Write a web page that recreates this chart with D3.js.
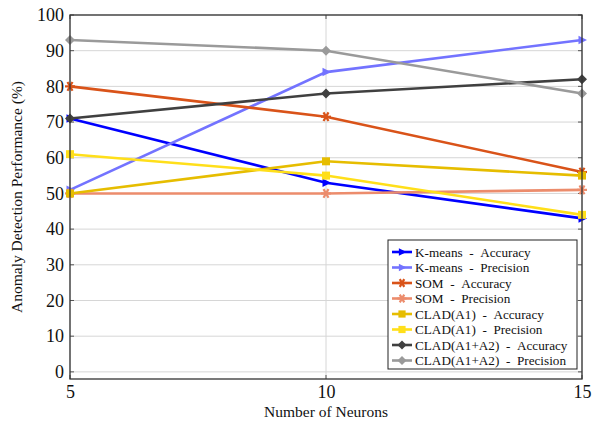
<!DOCTYPE html>
<html>
<head>
<meta charset="utf-8">
<script src="https://cdn.jsdelivr.net/npm/d3@7"></script>
<style>
  body { margin: 0; background: #fff; }
  svg text { font-family: "Liberation Serif", "Times New Roman", Times, "DejaVu Serif", serif !important; }
</style>
</head>
<body>
<svg id="chart"></svg>
<script>
// Data
const neurons = [5, 10, 15];
const yTicks = [0, 10, 20, 30, 40, 50, 60, 70, 80, 90, 100];

const kmeansAcc = [71, 53, 43];
const kmeansPrec = [51, 84, 93];
const somAcc = [80, 71.5, 56];
const somPrec = [50, 50, 51];
const cladA1Acc = [50, 59, 55];
const cladA1Prec = [61, 55, 44];
const cladA12Acc = [71, 78, 82];
const cladA12Prec = [93, 90, 78];

const series = [
  { name: "K-means - Accuracy", values: kmeansAcc, color: "#0000ff", mark: "tri" },
  { name: "K-means - Precision", values: kmeansPrec, color: "#7373ff", mark: "tri" },
  { name: "SOM - Accuracy", values: somAcc, color: "#d95319", mark: "star" },
  { name: "SOM - Precision", values: somPrec, color: "#ec8c6c", mark: "star" },
  { name: "CLAD(A1) - Accuracy", values: cladA1Acc, color: "#e6bd00", mark: "square" },
  { name: "CLAD(A1) - Precision", values: cladA1Prec, color: "#ffdf1a", mark: "square" },
  { name: "CLAD(A1+A2) - Accuracy", values: cladA12Acc, color: "#404040", mark: "diamond" },
  { name: "CLAD(A1+A2) - Precision", values: cladA12Prec, color: "#9a9a9a", mark: "diamond" }
];

const W = 592, H = 424;
const margin = { top: 15, right: 10, bottom: 45, left: 70 };
const width = W - margin.left - margin.right;
const height = H - margin.top - margin.bottom;

const svg = d3.select("#chart").attr("width", W).attr("height", H);
const g = svg.append("g").attr("transform", `translate(${margin.left},${margin.top})`);

const x = d3.scaleLinear().domain([5, 15]).range([0, width]);
const y = d3.scaleLinear().domain([-2, 100]).range([height, 0]);

// grid
g.append("g")
  .selectAll("line")
  .data(yTicks)
  .join("line")
  .attr("x1", 0).attr("x2", width)
  .attr("y1", d => y(d)).attr("y2", d => y(d))
  .attr("stroke", "#d6d6d6").attr("stroke-width", 1);
g.append("g")
  .selectAll("line")
  .data(neurons)
  .join("line")
  .attr("x1", d => x(d)).attr("x2", d => x(d))
  .attr("y1", 0).attr("y2", height)
  .attr("stroke", "#d6d6d6").attr("stroke-width", 1);

// axes
const xAxis = g.append("g")
  .attr("transform", `translate(0,${height})`)
  .call(d3.axisBottom(x).tickValues(neurons).tickSize(0).tickPadding(5));
const yAxis = g.append("g")
  .call(d3.axisLeft(y).tickValues(yTicks).tickSize(0).tickPadding(6));
[xAxis, yAxis].forEach(a => {
  a.attr("font-family", null);
  a.select(".domain").remove();
  a.selectAll("text").attr("font-size", 18).attr("fill", "#111");
});
xAxis.selectAll("text").attr("dy", "0.75em");

// small inward ticks like pgfplots
yTicks.forEach(t => {
  g.append("line").attr("x1", 0).attr("x2", 4).attr("y1", y(t)).attr("y2", y(t)).attr("stroke", "#555");
  g.append("line").attr("x1", width - 4).attr("x2", width).attr("y1", y(t)).attr("y2", y(t)).attr("stroke", "#555");
});
neurons.forEach(t => {
  g.append("line").attr("x1", x(t)).attr("x2", x(t)).attr("y1", height).attr("y2", height - 4).attr("stroke", "#555");
  g.append("line").attr("x1", x(t)).attr("x2", x(t)).attr("y1", 0).attr("y2", 4).attr("stroke", "#555");
});

// markers
function drawMark(sel, mark, color, cx, cy, s) {
  if (mark === "tri") {
    sel.append("path")
      .attr("d", `M${cx + s},${cy} L${cx - s * 0.7},${cy - s * 0.85} L${cx - s * 0.7},${cy + s * 0.85} Z`)
      .attr("fill", color);
  } else if (mark === "square") {
    sel.append("rect").attr("x", cx - s * 0.8).attr("y", cy - s * 0.8)
      .attr("width", s * 1.6).attr("height", s * 1.6).attr("fill", color);
  } else if (mark === "diamond") {
    sel.append("path")
      .attr("d", `M${cx},${cy - s} L${cx + s},${cy} L${cx},${cy + s} L${cx - s},${cy} Z`)
      .attr("fill", color);
  } else if (mark === "star") {
    [0, 60, 120].forEach(a => {
      const r = a * Math.PI / 180;
      sel.append("line")
        .attr("x1", cx - Math.cos(r) * s).attr("y1", cy - Math.sin(r) * s)
        .attr("x2", cx + Math.cos(r) * s).attr("y2", cy + Math.sin(r) * s)
        .attr("stroke", color).attr("stroke-width", 2.2);
    });
  }
}

const line = d3.line().x((d, i) => x(neurons[i])).y(d => y(d));

series.forEach(s => {
  g.append("path")
    .datum(s.values)
    .attr("fill", "none")
    .attr("stroke", s.color)
    .attr("stroke-width", 2.6)
    .attr("d", line);
  const mg = g.append("g");
  s.values.forEach((v, i) => drawMark(mg, s.mark, s.color, x(neurons[i]), y(v), 5));
});

// frame
g.append("rect").attr("width", width).attr("height", height)
  .attr("fill", "none").attr("stroke", "#333").attr("stroke-width", 1.3);

// legend
const lg = svg.append("g").attr("transform", "translate(388,240)");
const rowH = 15.5;
lg.append("rect").attr("width", 189).attr("height", 129)
  .attr("fill", "#fff").attr("stroke", "#222").attr("stroke-width", 1);
series.forEach((s, i) => {
  const cy = 12 + i * rowH;
  lg.append("line").attr("x1", 4).attr("x2", 24).attr("y1", cy).attr("y2", cy)
    .attr("stroke", s.color).attr("stroke-width", 2.6);
  drawMark(lg, s.mark, s.color, 14, cy, 4.5);
  lg.append("text").attr("x", 27).attr("y", cy).attr("dy", "0.35em")
    .attr("font-size", 13.2).attr("fill", "#111")
    .text(s.name.replace(/ - /g, "\u00a0\u00a0-\u00a0\u00a0"));
});

// axis labels
svg.append("text")
  .attr("x", margin.left + width / 2).attr("y", 417)
  .attr("text-anchor", "middle").attr("font-size", 15.5).attr("fill", "#111")
  .text("Number of Neurons");
svg.append("text")
  .attr("transform", `translate(22,${margin.top + height / 2}) rotate(-90)`)
  .attr("text-anchor", "middle").attr("font-size", 15.5).attr("fill", "#111")
  .text("Anomaly Detection Performance (%)");
</script>
</body>
</html>
